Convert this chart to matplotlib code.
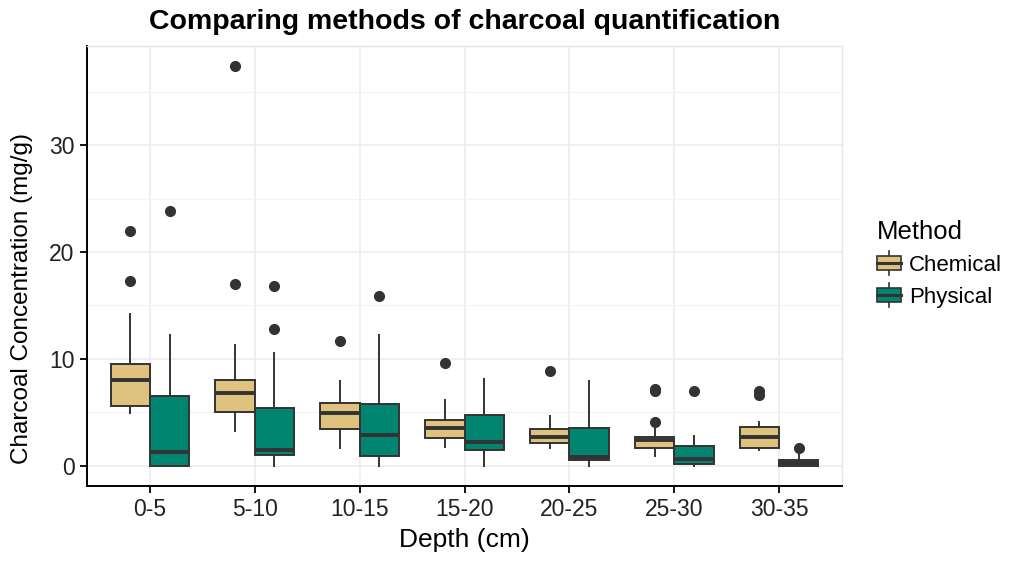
import numpy as np
import matplotlib.pyplot as plt
from matplotlib.patches import Rectangle
from matplotlib.lines import Line2D
from matplotlib.legend_handler import HandlerBase
from matplotlib.ticker import MultipleLocator

plt.rcParams['font.family'] = ['Liberation Sans', 'DejaVu Sans']

# depth classes
depths = ['0-5', '5-10', '10-15', '15-20', '20-25', '25-30', '30-35']

# box summaries (mg/g)
chem_q1 = [5.6, 5.0, 3.4, 2.6, 2.1, 1.7, 1.7]
chem_med = [8.0, 6.8, 4.9, 3.5, 2.7, 2.4, 2.7]
chem_q3 = [9.5, 8.0, 5.9, 4.3, 3.4, 2.7, 3.6]
chem_lo = [4.9, 3.3, 1.7, 1.8, 1.7, 0.9, 1.5]
chem_hi = [14.2, 11.3, 7.9, 6.2, 4.7, 3.6, 4.1]
chem_out = [[22.0, 17.3], [37.4, 17.0], [11.7], [9.6], [8.9], [7.0, 7.2, 4.1], [7.0, 6.6]]

phys_q1 = [0.0, 1.0, 0.9, 1.5, 0.5, 0.15, 0.0]
phys_med = [1.3, 1.5, 2.9, 2.2, 0.8, 0.6, 0.25]
phys_q3 = [6.5, 5.4, 5.8, 4.8, 3.5, 1.9, 0.55]
phys_lo = [0.0, 0.0, 0.0, 0.0, 0.0, 0.0, 0.0]
phys_hi = [12.2, 10.6, 12.2, 8.1, 7.9, 2.75, 1.1]
phys_out = [[23.8], [16.8, 12.8], [15.9], [], [], [7.0], [1.7]]

methods = ['Chemical', 'Physical']
colors = {'Chemical': '#DFC27D', 'Physical': '#018571'}
edge = '#333333'


def make_stats(q1, med, q3, lo, hi, out):
    return [dict(q1=a, med=b, q3=c, whislo=d, whishi=e, fliers=f)
            for a, b, c, d, e, f in zip(q1, med, q3, lo, hi, out)]


stats = {
    'Chemical': make_stats(chem_q1, chem_med, chem_q3, chem_lo, chem_hi, chem_out),
    'Physical': make_stats(phys_q1, phys_med, phys_q3, phys_lo, phys_hi, phys_out),
}

fig = plt.figure(figsize=(10.12, 5.61), dpi=100)
ax = fig.add_axes([0.086, 0.134, 0.746, 0.784])

x = np.arange(1, len(depths) + 1)
bw = 0.375
for k, m in enumerate(methods):
    pos = x + (k - 0.5) * bw
    ax.bxp(stats[m], positions=pos, widths=bw, patch_artist=True,
           showcaps=False, zorder=3,
           boxprops=dict(facecolor=colors[m], edgecolor=edge, linewidth=1.4),
           medianprops=dict(color=edge, linewidth=2.8, solid_capstyle='butt'),
           whiskerprops=dict(color=edge, linewidth=1.4),
           flierprops=dict(marker='o', markerfacecolor=edge, markeredgecolor=edge,
                           markersize=7, linestyle='none'))

ax.set_xlim(0.4, len(depths) + 0.6)
ax.set_ylim(-1.87, 39.27)
ax.set_xticks(x)
ax.set_xticklabels(depths)
ax.yaxis.set_major_locator(MultipleLocator(10))
ax.yaxis.set_minor_locator(MultipleLocator(5))

ax.grid(True, which='major', color='#EBEBEB', linewidth=1.1, zorder=0)
ax.grid(True, which='minor', axis='y', color='#F3F3F3', linewidth=0.8, zorder=0)
ax.set_axisbelow(True)

for s in ['top', 'right']:
    ax.spines[s].set_color('#E5E5E5')
    ax.spines[s].set_linewidth(1.0)
for s in ['left', 'bottom']:
    ax.spines[s].set_color('black')
    ax.spines[s].set_linewidth(1.4)

ax.tick_params(axis='both', which='major', length=5, width=1.3, colors='black',
               labelsize=16.5, labelcolor='#222222', pad=4)
ax.tick_params(axis='y', which='minor', length=0)

ax.set_xlabel('Depth (cm)', fontsize=19, labelpad=5)
ax.set_ylabel('Charcoal Concentration (mg/g)', fontsize=17.5)
ax.yaxis.set_label_coords(-0.071, 0.427)
ax.set_title('Comparing methods of charcoal quantification', fontsize=20.5,
             fontweight='bold', pad=12)


class BoxKey(HandlerBase):
    def create_artists(self, legend, orig_handle, xdescent, ydescent, width,
                       height, fontsize, trans):
        x0, y0 = -xdescent, -ydescent
        cx = x0 + width / 2
        bh = 0.68 * height
        by = y0 + (height - bh) / 2
        whisk = Line2D([cx, cx], [y0 - 0.1 * height, y0 + 1.1 * height],
                       color=edge, linewidth=1.2, transform=trans)
        box = Rectangle((x0, by), width, bh, facecolor=orig_handle.get_facecolor(),
                        edgecolor=edge, linewidth=1.2, transform=trans)
        med = Line2D([x0, x0 + width], [by + bh / 2] * 2, color=edge,
                     linewidth=2.2, transform=trans)
        return [whisk, box, med]


handles = [Rectangle((0, 0), 1, 1, facecolor=colors[m]) for m in methods]
leg = ax.legend(handles, methods, title='Method', loc='center left',
                bbox_to_anchor=(1.046, 0.505), frameon=False, fontsize=16,
                title_fontsize=18.5, handler_map={Rectangle: BoxKey()},
                handlelength=1.1, handleheight=1.0, handletextpad=0.35,
                labelspacing=0.42, borderpad=0, borderaxespad=0)
leg._legend_box.align = 'left'

fig.savefig('out.png', dpi=100)
